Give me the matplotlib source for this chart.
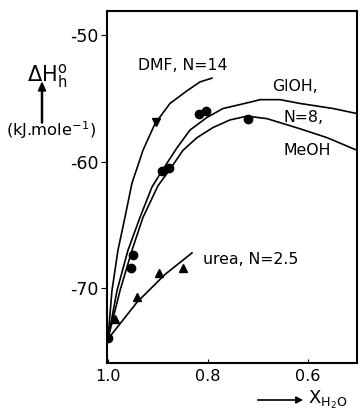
import matplotlib.pyplot as plt
import matplotlib.patches as mpatches

plt.rcParams["axes.unicode_minus"] = False
plt.rcParams["font.family"] = "DejaVu Sans"

# curves (x = mole fraction of water, y = dH in kJ/mol)
dmf_x = [1.0, 0.992, 0.98, 0.966, 0.952, 0.93, 0.906, 0.876, 0.842, 0.816, 0.792]
dmf_y = [-74.0, -70.2, -67.0, -64.4, -61.7, -59.1, -57.0, -55.4, -54.4, -53.7, -53.4]

gloh_x = [1.0, 0.982, 0.96, 0.936, 0.912, 0.89, 0.862, 0.836, 0.802, 0.77,
          0.716, 0.696, 0.656, 0.616, 0.55, 0.502]
gloh_y = [-74.0, -70.2, -67.0, -64.4, -62.0, -60.6, -58.9, -57.5, -56.5, -55.8,
          -55.3, -55.1, -55.1, -55.4, -55.8, -56.2]

meoh_x = [1.0, 0.976, 0.952, 0.93, 0.9, 0.876, 0.85, 0.822, 0.79, 0.756,
          0.722, 0.682, 0.616, 0.562, 0.502]
meoh_y = [-74.0, -70.2, -67.0, -64.4, -61.9, -60.6, -59.1, -58.1, -57.3, -56.7,
          -56.4, -56.6, -57.4, -58.1, -59.1]

urea_x = [1.0, 0.942, 0.886, 0.832]
urea_y = [-74.0, -71.1, -68.9, -67.2]

# measured points
circ_x = [1.0, 0.95, 0.954, 0.892, 0.878, 0.818, 0.804, 0.72]
circ_y = [-73.9, -67.4, -68.4, -60.7, -60.5, -56.2, -56.0, -56.6]
tri_x = [0.986, 0.942, 0.898, 0.85]
tri_y = [-72.4, -70.7, -68.8, -68.4]
dtri_x = [0.904]
dtri_y = [-56.9]

fig = plt.figure(figsize=(3.6, 4.15), dpi=100)
ax = fig.add_axes([0.297, 0.125, 0.695, 0.8485])

for xs, ys in [(dmf_x, dmf_y), (gloh_x, gloh_y), (meoh_x, meoh_y), (urea_x, urea_y)]:
    ax.plot(xs, ys, color="black", lw=1.2, solid_joinstyle="round")

ax.plot(circ_x, circ_y, "o", color="black", ms=6)
ax.plot(tri_x, tri_y, "^", color="black", ms=6)
ax.plot(dtri_x, dtri_y, "v", color="black", ms=6)

ax.set_xlim(1.002, 0.502)
ax.set_ylim(-75.9, -48.1)
ax.set_xticks([1.0, 0.8, 0.6])
ax.set_xticklabels(["1.0", "0.8", "0.6"])
ax.set_yticks([-50, -60, -70])
ax.set_yticklabels(["-50", "-60", "-70"])
ax.tick_params(axis="x", direction="in", length=3, labelsize=11.5, pad=4)
ax.tick_params(axis="y", direction="out", length=4, labelsize=12.5, pad=2)
for s in ax.spines.values():
    s.set_linewidth(1.5)

tkw = dict(fontsize=11.3, color="black", va="center", ha="left")
ax.text(0.94, -52.4, "DMF, N=14", **tkw)
ax.text(0.672, -54.1, "GlOH,", **tkw)
ax.text(0.65, -56.5, "N=8,", **tkw)
ax.text(0.65, -59.1, "MeOH", **tkw)
ax.text(0.81, -67.7, "urea, N=2.5", **tkw)

# y label with arrow
fig.text(47 / 360, 1 - 76 / 415, r"$\Delta$H$^{\rm o}_{\rm h}$", fontsize=15, ha="center", va="center")
fig.patches.append(mpatches.FancyArrow(
    42 / 360, 1 - 123 / 415, 0, 32 / 415, width=0.003, head_width=0.02,
    head_length=0.02, color="black", transform=fig.transFigure))
fig.text(51 / 360, 1 - 130 / 415, "(kJ.mole$^{-1}$)", fontsize=11.8, ha="center", va="center")

# x label with arrow
ax.annotate("", xy=(306 / 360, 1 - 400 / 415), xytext=(255 / 360, 1 - 400 / 415),
            xycoords="figure fraction", textcoords="figure fraction",
            arrowprops=dict(arrowstyle="-|>", color="black", lw=1.2))
fig.text(308 / 360, 1 - 400 / 415, r"X$_{\rm H_2O}$", fontsize=13, ha="left", va="center")

fig.savefig("out.png", dpi=100)
